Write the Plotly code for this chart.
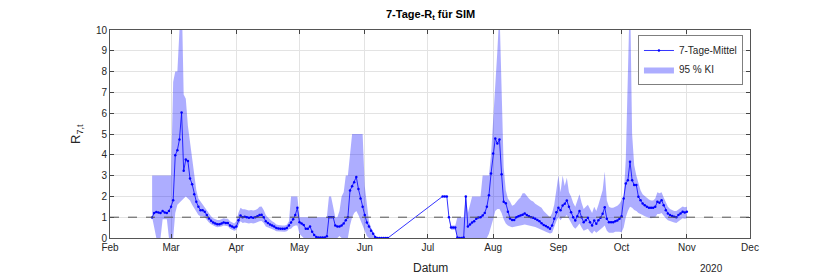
import pandas as pd
import plotly.graph_objects as go

# ---------------- data ----------------
seg1_start = "2020-02-21"
mean1 = [0.99, 1.2, 1.25, 1.22, 1.2, 1.3, 1.22, 1.2, 1.3, 1.5,
         1.82, 3.98, 4.22, 4.74, 6.03, 3.23, 3.77, 3.7, 2.86, 2.59,
         2.1, 1.74, 1.5, 1.34, 1.34, 1.26, 1.1, 0.94, 0.83, 0.75,
         0.7, 0.66, 0.66, 0.7, 0.75, 0.72, 0.72, 0.6, 0.55, 0.5,
         0.55, 0.85, 1.08, 1.0, 1.02, 1.0, 0.97, 1.0, 0.97, 1.0,
         1.05, 1.1, 1.12, 1.0, 0.8, 0.72, 0.65, 0.6, 0.55, 0.48,
         0.46, 0.45, 0.45, 0.45, 0.48, 0.6, 0.75, 0.9, 1.1, 1.45,
         0.76, 0.7, 0.62, 0.45, 0.45, 0.55, 0.3, 0.15, 0.05, 0.02,
         0.02, 0.02, 0.02, 0.08, 1.0, 1.0, 1.0, 0.6, 0.55, 0.55,
         0.6, 0.7, 0.85, 1.0, 2.28, 2.49, 2.68, 2.93, 2.36, 1.9,
         1.5, 1.1, 0.75, 0.55, 0.35, 0.2, 0.05, 0, 0, 0,
         0, 0, 0]
upper1 = [3, 3, 3, 3, 3, 3, 3, 3, 3, 3,
          7.5, 8.0, 8.0, 11.5, 12.0, 6.9, 6.7, 5.4, 4.6, 3.7,
          2.9, 2.3, 1.9, 1.75, 1.6, 1.5, 1.3, 1.15, 1.05, 0.95,
          0.9, 0.87, 0.87, 0.9, 0.95, 0.92, 0.92, 0.8, 0.75, 0.7,
          0.8, 1.2, 1.45, 1.38, 1.38, 1.35, 1.32, 1.35, 1.32, 1.35,
          1.4, 1.5, 1.52, 1.35, 1.1, 0.98, 0.88, 0.8, 0.74, 0.65,
          0.62, 0.6, 0.6, 0.6, 0.64, 0.8, 2.0, 2.0, 2.0, 2.0,
          1, 1, 1, 1, 1, 1, 1, 1, 1, 1,
          1, 1, 1, 1, 2.0, 2.0, 1.5, 1.0, 1.0, 1.3,
          2.0, 2.2, 3.0, 3.0, 4.0, 5, 5, 5, 5, 5,
          5.0, 2.5, 1.5, 0.8, 0.5, 0.3, 0.1, 0, 0, 0,
          0, 0, 0]
lower1 = [1.0, 0.5, 0, 0, 0, 0.9, 0.9, 0.9, 0, 0,
          0, 1.2, 1.6, 1.75, 1.8, 1.9, 2.0, 1.9, 1.8, 1.6,
          1.4, 1.25, 1.1, 1.05, 1.05, 1.0, 0.88, 0.75, 0.66, 0.6,
          0.55, 0.52, 0.52, 0.55, 0.6, 0.57, 0.57, 0.45, 0.4, 0.35,
          0.38, 0.6, 0.8, 0.72, 0.74, 0.72, 0.7, 0.72, 0.7, 0.72,
          0.75, 0.8, 0.82, 0.72, 0.55, 0.5, 0.45, 0.42, 0.38, 0.33,
          0.31, 0.3, 0.3, 0.3, 0.33, 0.42, 0.45, 0.55, 0.6, 0.6,
          0.2, 0.1, 0, 0, 0, 0, 0, 0, 0, 0,
          0, 0, 0, 0, 0, 0, 0, 0, 0, 0.1,
          0, 0, 0, 0, 0.6, 1.0, 1.2, 1.3, 1.1, 0.9,
          0.6, 0.35, 0.1, 0, 0, 0, 0, 0, 0, 0,
          0, 0, 0]

seg2_start = "2020-07-08"
mean2 = [2.0, 2.0, 2.0, 1.0, 0.5, 0.5, 0.5, 0.02, 0, 0,
         0.02, 2.0, 0.55, 0.65, 0.75, 0.8, 0.93, 0.98, 1.0, 1.08,
         1.2, 1.5, 2.06, 3.1, 4.06, 4.78, 4.54, 4.74, 3.07, 1.74,
         1.67, 1.26, 0.94, 0.86, 0.86, 1.0, 1.05, 1.08, 1.12, 1.18,
         1.1, 1.05, 1.0, 0.97, 0.92, 0.86, 0.8, 0.71, 0.62, 0.58,
         0.52, 0.45, 0.6, 0.92, 1.24, 1.45, 1.33, 1.56, 1.65, 1.8,
         1.5, 1.24, 1.0, 0.84, 1.05, 1.3, 1.0, 0.76, 0.85, 0.97,
         0.76, 0.6, 0.84, 0.68, 0.85, 0.97, 1.16, 1.48, 0.92, 0.76,
         0.76, 0.76, 0.8, 0.84, 0.92, 1.05, 1.9, 2.62, 2.78, 3.66,
         2.78, 2.55, 2.55, 1.98, 1.82, 1.66, 1.58, 1.5, 1.45, 1.45,
         1.45, 1.5, 1.74, 1.7, 1.82, 1.58, 1.34, 1.18, 1.1, 1.06,
         1.02, 1.0, 1.1, 1.18, 1.26, 1.22, 1.26]
upper2 = [2.0, 2.0, 2.0, 1.0, 0.6, 0.6, 0.6, 1.0, 1.0, 1.0,
          1.0, 2.0, 1.2, 1.6, 2.0, 2.0, 2.0, 2.0, 2.0, 3.0,
          3.0, 3.0, 3.0, 4.0, 5.5, 7.5, 9.0, 11.0, 6.5, 3.4,
          2.3, 1.9, 1.75, 1.55, 1.6, 1.75, 1.85, 1.95, 2.15, 2.15,
          2.0, 1.9, 1.8, 1.75, 1.65, 1.58, 1.5, 1.45, 1.3, 1.2,
          1.1, 1.0, 1.2, 1.6, 2.3, 3.0, 2.2, 3.0, 2.5, 2.9,
          2.2, 2.0, 1.7, 1.5, 1.8, 2.1, 1.7, 1.4, 1.5, 1.6,
          1.4, 1.2, 1.5, 1.3, 1.6, 1.9, 2.3, 3.2, 1.8, 1.5,
          1.45, 1.45, 1.5, 1.55, 1.65, 1.8, 2.0, 3.8, 8.0, 12.0,
          5.0, 3.5, 3.0, 2.6, 2.3, 2.1, 2.0, 1.9, 1.85, 1.8,
          1.8, 1.9, 2.2, 2.15, 2.2, 1.95, 1.7, 1.5, 1.4, 1.35,
          1.3, 1.3, 1.38, 1.45, 1.52, 1.48, 1.5]
lower2 = [2.0, 2.0, 2.0, 1.0, 0.4, 0.4, 0.4, 0, 0, 0,
          0, 0, 0, 0, 0, 0, 0, 0, 0, 0,
          0, 0, 0.2, 0.5, 0.9, 1.3, 1.4, 1.4, 1.2, 0.9,
          0.7, 0.6, 0.55, 0.52, 0.52, 0.55, 0.58, 0.6, 0.62, 0.65,
          0.62, 0.6, 0.58, 0.55, 0.53, 0.5, 0.45, 0.4, 0.35, 0.3,
          0.28, 0.22, 0.25, 0.5, 0.8, 1.0, 0.85, 1.0, 1.0, 1.1,
          0.9, 0.75, 0.55, 0.45, 0.55, 0.7, 0.5, 0.35, 0.4, 0.45,
          0.3, 0.2, 0.35, 0.25, 0.3, 0.4, 0.5, 0.6, 0.35, 0.25,
          0.25, 0.25, 0.3, 0.3, 0.3, 0.28, 0.5, 1.0, 1.3, 1.5,
          1.45, 1.35, 1.3, 1.2, 1.15, 1.1, 1.05, 1.0, 0.97, 0.95,
          0.97, 1.0, 1.15, 1.15, 1.2, 1.05, 0.95, 0.85, 0.8, 0.78,
          0.75, 0.72, 0.8, 0.88, 0.95, 0.93, 0.95]

month_ticks = ["2020-02-01", "2020-03-01", "2020-04-01", "2020-05-01", "2020-06-01",
               "2020-07-01", "2020-08-01", "2020-09-01", "2020-10-01", "2020-11-01",
               "2020-12-01"]
month_labels = ["Feb", "Mar", "Apr", "May", "Jun", "Jul", "Aug", "Sep", "Oct", "Nov", "Dec"]
y_ticks = [0, 1, 2, 3, 4, 5, 6, 7, 8, 9, 10]

# ---------------- build ----------------
d1 = [d.strftime("%Y-%m-%d") for d in pd.date_range(seg1_start, periods=len(mean1), freq="D")]
d2 = [d.strftime("%Y-%m-%d") for d in pd.date_range(seg2_start, periods=len(mean2), freq="D")]

band_x = d1 + d1[::-1] + [None] + d2 + d2[::-1]
band_y = upper1 + lower1[::-1] + [None] + upper2 + lower2[::-1]

FONT = "Liberation Sans, Arial, sans-serif"
TXT = "#262626"

fig = go.Figure()
fig.add_trace(go.Scatter(
    x=band_x, y=band_y, fill="toself", mode="lines",
    line=dict(width=0), fillcolor="rgba(0,0,255,0.32)",
    name="95 % KI", legendrank=2, hoverinfo="skip"))
fig.add_trace(go.Scatter(
    x=d1 + d2, y=mean1 + mean2, mode="lines+markers",
    line=dict(color="#0000ff", width=0.8),
    marker=dict(color="#0000ff", size=2.5),
    name="7-Tage-Mittel", legendrank=1))

fig.add_shape(type="line", xref="paper", x0=0, x1=1, yref="y", y0=1, y1=1,
              line=dict(color="#555555", width=1, dash="dash"))

# page body adds an 8 px offset; the figure is sized so the plot area lands at 110..750 x 30..238
fig.update_layout(
    width=822, height=270,
    margin=dict(l=102, r=80, t=22, b=40, autoexpand=False),
    paper_bgcolor="white", plot_bgcolor="white",
    font=dict(family=FONT, size=10, color=TXT),
    showlegend=True,
    legend=dict(x=0.989, y=0.976, xanchor="right", yanchor="top",
                bgcolor="white", bordercolor="#7f7f7f", borderwidth=1,
                font=dict(size=10, color=TXT), itemwidth=30,
                tracegroupgap=0),
    xaxis=dict(range=["2020-02-01", "2020-12-01"], tickvals=month_ticks, ticktext=month_labels,
               showgrid=True, gridcolor="#e3e3e3", gridwidth=1, automargin=False,
               ticks="inside", ticklen=4, tickcolor="#444",
               showline=True, linecolor="#555", linewidth=1, mirror="ticks",
               zeroline=False, tickfont=dict(size=10, color=TXT)),
    yaxis=dict(range=[0, 10], tickvals=y_ticks, automargin=False,
               showgrid=True, gridcolor="#e3e3e3", gridwidth=1,
               ticks="inside", ticklen=4, tickcolor="#444",
               showline=True, linecolor="#555", linewidth=1, mirror="ticks",
               zeroline=False, tickfont=dict(size=10, color=TXT)),
    annotations=[
        dict(text="<b>7-Tage-R<sub>t</sub> für SIM</b>", xref="paper", yref="paper",
             x=0.5, y=1, yanchor="bottom", yshift=6, showarrow=False,
             font=dict(size=11, color="black")),
        dict(text="R<sub>7,t</sub>", xref="paper", yref="paper", x=0, y=0.5,
             xanchor="center", yanchor="middle", xshift=-34, textangle=-90,
             showarrow=False, font=dict(size=13, color=TXT)),
        dict(text="Datum", xref="paper", yref="paper", x=0.5, y=0,
             yanchor="middle", yshift=-30, showarrow=False, font=dict(size=12, color=TXT)),
        dict(text="2020", xref="paper", yref="paper", x=(725 - 110) / 640, y=0,
             yanchor="middle", yshift=-30, showarrow=False, font=dict(size=10, color=TXT)),
    ],
)

fig.write_html("out.html")
